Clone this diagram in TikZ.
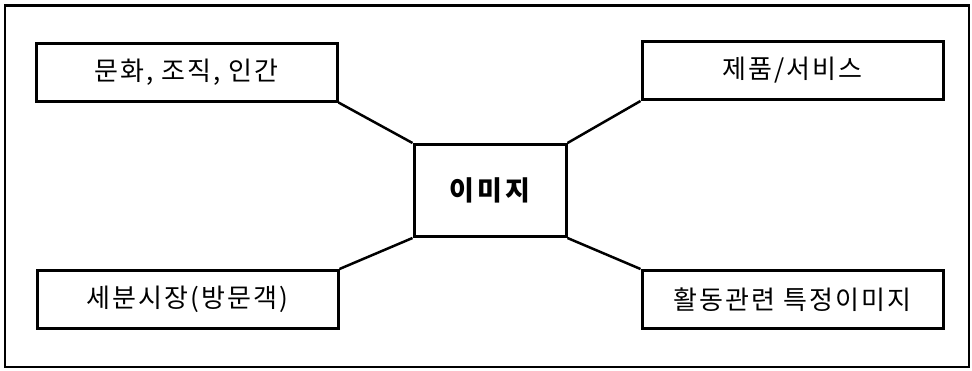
\documentclass[tikz,border=0pt]{standalone}
\usepackage{fontspec}
\newfontfamily\kr[LetterSpace=8]{Noto Sans CJK KR}
\newfontfamily\krwide[LetterSpace=12]{Noto Sans CJK KR}
\usepackage{tikz}

\begin{document}
\begin{tikzpicture}[x=1pt,y=-1pt,
  item/.style={draw,line width=3pt,minimum width=301pt,minimum height=58pt,inner sep=0pt,font=\kr\fontsize{26}{30}\selectfont},
  hub/.style={draw,line width=3pt,minimum width=152pt,minimum height=92pt,inner sep=0pt,font=\krwide\bfseries\fontsize{27}{31}\selectfont},
  link/.style={line width=2.5pt}]
\useasboundingbox (0,0) rectangle (972,370);
\draw[line width=2pt] (5,5) rectangle (969,367);
\draw[line width=3pt] (5,5) -- (969,5);
% centre and the four boxes round it
\node[hub] (img) at (490,190.5) {이미지};
\node[item] (culture) at (186.5,72) {문화, 조직, 인간};
\node[item] (product) at (792.5,70.5) {제품/서비스};
\node[item] (segment) at (187.5,299.5) {세분시장(방문객)};
\node[item] (activity) at (792.5,299.5) {활동관련 특정이미지};
\draw[link] (culture.south east) -- (img.north west);
\draw[link] (product.south west) -- (img.north east);
\draw[link] (segment.north east) -- (img.south west);
\draw[link] (activity.north west) -- (img.south east);
\end{tikzpicture}
\end{document}
